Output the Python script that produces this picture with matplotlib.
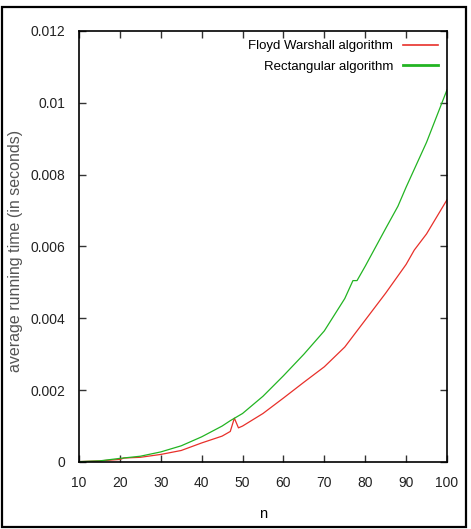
import matplotlib
matplotlib.use('Agg')
import matplotlib.pyplot as plt
from matplotlib.patches import Rectangle

# problem size n
n_floyd = [10, 15, 20, 21, 25, 30, 35, 40, 45, 47, 48, 49, 50, 55, 60, 65,
           70, 75, 80, 85, 90, 92, 95, 100]
t_floyd = [0.00001, 0.00003, 0.00007, 0.00011, 0.00013, 0.00021, 0.00032,
           0.00053, 0.00072, 0.00085, 0.00122, 0.00095, 0.00100, 0.00135,
           0.00178, 0.00222, 0.00265, 0.00320, 0.00395, 0.00470, 0.00550,
           0.00590, 0.00635, 0.00730]

n_rect = [10, 15, 20, 25, 30, 35, 40, 45, 47, 50, 55, 60, 65, 70, 75, 77,
          78, 80, 85, 88, 90, 95, 100]
t_rect = [0.00001, 0.00003, 0.00010, 0.00016, 0.00028, 0.00045, 0.00070,
          0.00100, 0.00115, 0.00135, 0.00183, 0.00240, 0.00300, 0.00365,
          0.00455, 0.00505, 0.00505, 0.00545, 0.00650, 0.00712, 0.00765,
          0.00890, 0.01036]

x_ticks = [10, 20, 30, 40, 50, 60, 70, 80, 90, 100]
y_ticks = [0, 0.002, 0.004, 0.006, 0.008, 0.01, 0.012]
y_labels = ['0', '0.002', '0.004', '0.006', '0.008', '0.01', '0.012']

plt.rcParams['font.family'] = ['Liberation Sans', 'DejaVu Sans']

fig = plt.figure(figsize=(4.71, 5.29), dpi=100)
ax = fig.add_axes([0.1677, 0.1267, 0.949 - 0.1677, 0.9414 - 0.1267])

ax.plot(n_floyd, t_floyd, color='#e8302a', lw=0.9, label='Floyd Warshall algorithm')
ax.plot(n_rect, t_rect, color='#22b422', lw=0.9, label='Rectangular algorithm')

ax.set_xlim(10, 100)
ax.set_ylim(0, 0.012)
ax.set_xticks(x_ticks)
ax.set_yticks(y_ticks)
ax.set_yticklabels(y_labels)
ax.tick_params(direction='in', top=True, right=True, length=5, width=1,
               labelsize=10, color='#333333', labelcolor='#222222')
ax.tick_params(axis='x', pad=10)
ax.tick_params(axis='y', pad=10)
for s in ax.spines.values():
    s.set_linewidth(1.2)

ax.set_xlabel('n', fontsize=10.5)
ax.xaxis.set_label_coords(0.5, -0.105)
ax.set_ylabel('average running time (in seconds)', fontsize=11.5,
              color='#555555')
ax.yaxis.set_label_coords(-0.152, 0.49)

leg = ax.legend(loc='upper right', frameon=False, markerfirst=False,
                fontsize=9.5, handlelength=2.6, borderaxespad=0.3,
                labelspacing=0.6)
for h in leg.get_lines():
    h.set_linewidth(1.2)
leg.get_lines()[1].set_linewidth(2)

fig.patches.append(Rectangle((0.004, 0.004), 0.985, 0.983, transform=fig.transFigure,
                             fill=False, edgecolor='black', lw=1.6))

fig.savefig('out.png', dpi=100)
